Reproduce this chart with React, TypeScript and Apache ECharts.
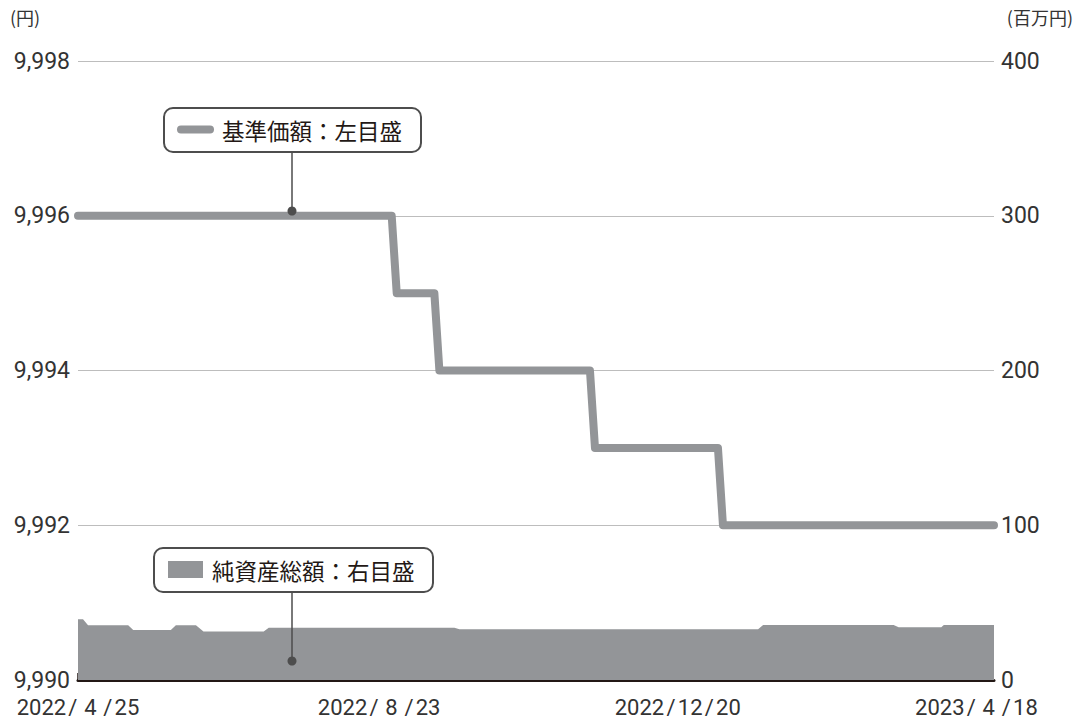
import React, { useEffect, useRef } from "react";
import * as echarts from "echarts";

// 基準価額 (円) — left axis
const navDates = [
  "2022-04-25", "2022-08-28", "2022-08-30", "2022-09-14", "2022-09-16",
  "2022-11-15", "2022-11-17", "2023-01-05", "2023-01-07", "2023-04-25",
];
const navValues = [9996, 9996, 9995, 9995, 9994, 9994, 9993, 9993, 9992, 9992];

// 純資産総額 (百万円) — right axis
const assetDates = [
  "2022-04-25", "2022-04-27", "2022-04-29", "2022-05-15", "2022-05-17",
  "2022-06-01", "2022-06-03", "2022-06-11", "2022-06-14", "2022-07-08",
  "2022-07-10", "2022-09-22", "2022-09-24", "2023-01-21", "2023-01-23",
  "2023-03-16", "2023-03-18", "2023-04-04", "2023-04-05", "2023-04-25",
];
const assetValues = [
  39.2, 39.2, 35.3, 35.3, 32.3,
  32.3, 35.3, 35.3, 31.3, 31.3,
  33.8, 33.8, 32.8, 32.8, 35.5,
  35.5, 34.1, 34.1, 35.5, 35.5,
];

const xStart = "2022-04-25";
const xEnd = "2023-04-25";
const xTickDates = ["2022-04-25", "2022-08-23", "2022-12-20", "2023-04-18"];

const leftMin = 9990;
const leftMax = 9998;
const leftStep = 2;
const rightMin = 0;
const rightMax = 400;
const rightStep = 100;

const navName = "基準価額：左目盛";
const assetName = "純資産総額：右目盛";
const leftUnit = "(円)";
const rightUnit = "(百万円)";

const FONT = "'Noto Sans CJK JP', 'Noto Sans', sans-serif";
const NUMFONT = "Roboto, 'Noto Sans', sans-serif";
const GRAY = "#939598";
const DARK = "#231815";
const BOX = "#4d4d4d";

const ts = (s: string) => {
  const [y, m, d] = s.split("-").map(Number);
  return new Date(y, m - 1, d).getTime();
};

const SL = "\u200A/\u200A";
const fmtDate = (v: number) => {
  const dt = new Date(v);
  const y = dt.getFullYear();
  const m = dt.getMonth() + 1;
  const d = dt.getDate();
  const mm = m < 10 ? `\u2009${m}\u2009` : `${m}`;
  return `${y}${SL}${mm}${SL}${d}`;
};

export default function App() {
  const ref = useRef<HTMLDivElement>(null);

  useEffect(() => {
    if (!ref.current) return;
    const chart = echarts.init(ref.current, null, { renderer: "svg" });
    const tickTs = xTickDates.map(ts);

    chart.setOption({
      animation: false,
      textStyle: { fontFamily: FONT },
      grid: { left: 78, right: 81, top: 61, bottom: 40, containLabel: false },
      xAxis: {
        type: "value",
        min: ts(xStart),
        max: ts(xEnd),
        axisLine: { show: true, onZero: false, lineStyle: { color: DARK, width: 3 } },
        axisTick: {
          show: true,
          inside: true,
          length: 7,
          customValues: tickTs,
          lineStyle: { color: DARK, width: 2.5 },
        },
        axisLabel: {
          customValues: tickTs,
          formatter: (v: number) => fmtDate(v),
          fontSize: 22,
          lineHeight: 26,
          color: "#333",
          fontFamily: NUMFONT,
          margin: 14,
        },
        splitLine: { show: false },
      },
      yAxis: [
        {
          type: "value",
          min: leftMin,
          max: leftMax,
          interval: leftStep,
          axisLine: { show: false },
          axisTick: { show: false },
          axisLabel: {
            formatter: (v: number) => v.toLocaleString("en-US"),
            fontSize: 23,
            lineHeight: 24,
            color: "#333",
            fontFamily: NUMFONT,
            margin: 8,
          },
          splitLine: { show: true, lineStyle: { color: "#bdbdbd", width: 1 } },
        },
        {
          type: "value",
          min: rightMin,
          max: rightMax,
          interval: rightStep,
          position: "right",
          axisLine: { show: false },
          axisTick: { show: false },
          axisLabel: {
            fontSize: 23,
            lineHeight: 24,
            color: "#333",
            fontFamily: NUMFONT,
            margin: 7,
          },
          splitLine: { show: false },
        },
      ],
      series: [
        {
          name: assetName,
          type: "line",
          yAxisIndex: 1,
          data: assetDates.map((d, i) => [ts(d), assetValues[i]]),
          showSymbol: false,
          lineStyle: { width: 0 },
          areaStyle: { color: GRAY, opacity: 1 },
          itemStyle: { color: GRAY },
          z: 1,
        },
        {
          name: navName,
          type: "line",
          yAxisIndex: 0,
          data: navDates.map((d, i) => [ts(d), navValues[i]]),
          showSymbol: false,
          lineStyle: { width: 8, color: GRAY, join: "round", cap: "round" },
          itemStyle: { color: GRAY },
          z: 3,
        },
      ],
      graphic: [
        {
          type: "text",
          left: 10,
          top: 8,
          style: { text: leftUnit, fontSize: 18, fill: "#333", fontFamily: FONT },
        },
        {
          type: "text",
          right: 2,
          top: 8,
          style: { text: rightUnit, fontSize: 18, fill: "#333", fontFamily: FONT },
        },
        // legend callout 1
        {
          type: "line",
          shape: { x1: 292, y1: 152, x2: 292, y2: 211 },
          style: { stroke: BOX, lineWidth: 1.5 },
          z: 10,
        },
        {
          type: "circle",
          shape: { cx: 292, cy: 211, r: 4.5 },
          style: { fill: BOX },
          z: 10,
        },
        {
          type: "rect",
          shape: { x: 164, y: 108, width: 257, height: 44, r: 9 },
          style: { fill: "#fff", stroke: BOX, lineWidth: 2 },
          z: 10,
        },
        {
          type: "line",
          shape: { x1: 181, y1: 129.5, x2: 210, y2: 129.5 },
          style: { stroke: GRAY, lineWidth: 8, lineCap: "round" },
          z: 11,
        },
        {
          type: "text",
          x: 222,
          y: 130,
          style: {
            text: navName,
            fontSize: 22.5,
            fill: DARK,
            fontFamily: FONT,
            verticalAlign: "middle",
          },
          z: 11,
        },
        // legend callout 2
        {
          type: "line",
          shape: { x1: 292, y1: 592, x2: 292, y2: 661 },
          style: { stroke: BOX, lineWidth: 1.5 },
          z: 10,
        },
        {
          type: "circle",
          shape: { cx: 292, cy: 661, r: 4.5 },
          style: { fill: BOX },
          z: 10,
        },
        {
          type: "rect",
          shape: { x: 154, y: 548, width: 279, height: 44, r: 9 },
          style: { fill: "#fff", stroke: BOX, lineWidth: 2 },
          z: 10,
        },
        {
          type: "rect",
          shape: { x: 168, y: 561, width: 35, height: 17 },
          style: { fill: GRAY },
          z: 11,
        },
        {
          type: "text",
          x: 212,
          y: 570,
          style: {
            text: assetName,
            fontSize: 22.5,
            fill: DARK,
            fontFamily: FONT,
            verticalAlign: "middle",
          },
          z: 11,
        },
      ],
    });

    return () => chart.dispose();
  }, []);

  return (
    <div
      ref={ref}
      style={{ position: "fixed", left: 0, top: 0, width: 1075, height: 720, background: "#fff" }}
    />
  );
}
